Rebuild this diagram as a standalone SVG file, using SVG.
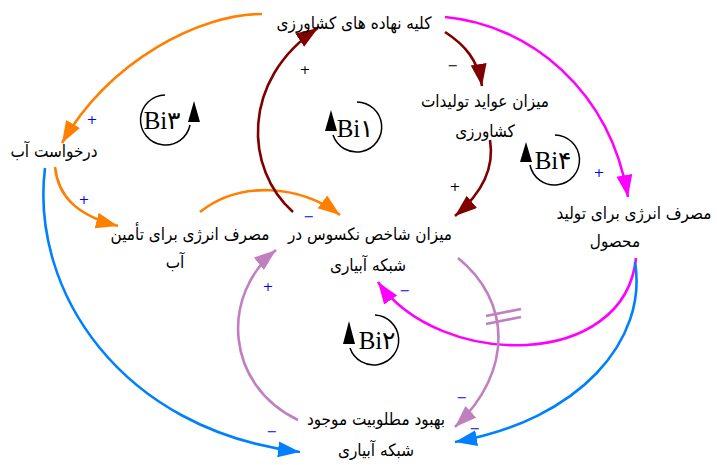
<svg xmlns="http://www.w3.org/2000/svg" width="717" height="465" viewBox="0 0 717 465">
<style>
.t{font-family:"DejaVu Sans Condensed","DejaVu Sans",sans-serif;font-size:17px;fill:#000;text-anchor:middle}
.l{font-family:"Liberation Serif","DejaVu Serif",serif;font-size:25px;fill:#000;text-anchor:middle}
.s{font-family:"DejaVu Sans",sans-serif;font-size:13px;fill:#0000ff;text-anchor:middle}
.sd{font-family:"DejaVu Sans",sans-serif;font-size:13px;fill:#000;text-anchor:middle}
.e{fill:none;stroke-width:2.6}
.or{stroke:#ff8000}.dr{stroke:#800000}.mg{stroke:#ff00ff}.pu{stroke:#c080c0}.bl{stroke:#0080ff}
.lp{fill:none;stroke:#000;stroke-width:1.5}
</style>
<defs>
<marker id="aor" markerUnits="userSpaceOnUse" markerWidth="24" markerHeight="18" refX="22" refY="8" orient="auto"><path d="M0,0L22,8L0,16z" fill="#ff8000"/></marker>
<marker id="adr" markerUnits="userSpaceOnUse" markerWidth="24" markerHeight="18" refX="22" refY="8" orient="auto"><path d="M0,0L22,8L0,16z" fill="#800000"/></marker>
<marker id="amg" markerUnits="userSpaceOnUse" markerWidth="24" markerHeight="18" refX="22" refY="8" orient="auto"><path d="M0,0L22,8L0,16z" fill="#ff00ff"/></marker>
<marker id="apu" markerUnits="userSpaceOnUse" markerWidth="24" markerHeight="18" refX="22" refY="8" orient="auto"><path d="M0,0L22,8L0,16z" fill="#c080c0"/></marker>
<marker id="abl" markerUnits="userSpaceOnUse" markerWidth="24" markerHeight="18" refX="22" refY="8" orient="auto"><path d="M0,0L22,8L0,16z" fill="#0080ff"/></marker>
</defs>
<rect width="717" height="465" fill="#fff"/>
<g id="connectors">
<path class="e or" d="M262,14 C200,14 110,60 62,143" marker-end="url(#aor)"/>
<path class="e or" d="M55,167 C58,195 75,215 118,226" marker-end="url(#aor)"/>
<path class="e or" d="M200,212 C240,180 300,185 340,215" marker-end="url(#aor)"/>
<path class="e dr" d="M293,212 C245,170 240,80 318,28" marker-end="url(#adr)"/>
<path class="e dr" d="M445,32 C465,45 478,60 482,86" marker-end="url(#adr)"/>
<path class="e dr" d="M490,140 C495,170 480,195 455,216" marker-end="url(#adr)"/>
<path class="e mg" d="M445,17 C530,25 610,90 628,197" marker-end="url(#amg)"/>
<path class="e mg" d="M636,258 C625,370 440,370 378,282" marker-end="url(#amg)"/>
<path class="e pu" d="M458,258 C510,300 515,370 455,427" marker-end="url(#apu)"/>
<path class="e pu" d="M486,316 L521,309 M486,324 L521,317"/>
<path class="e pu" d="M298,420 C225,385 220,295 276,250" marker-end="url(#apu)"/>
<path class="e bl" d="M45,168 C30,290 120,430 300,452" marker-end="url(#abl)"/>
<path class="e bl" d="M635,262 C648,340 580,420 455,442" marker-end="url(#abl)"/>
<text class="s" x="92" y="124">+</text>
<text class="s" x="84" y="204">+</text>
<text class="s" x="309" y="221">−</text>
<text class="sd" x="305" y="74">+</text>
<text class="sd" x="453" y="70">−</text>
<text class="sd" x="455" y="191">+</text>
<text class="s" x="599" y="177">+</text>
<text class="s" x="405" y="295">−</text>
<text class="s" x="462" y="402">−</text>
<text class="s" x="475" y="433">−</text>
<text class="s" x="268" y="291">+</text>
<text class="s" x="272" y="436">−</text>
</g>
<g id="loop-b1">
<path class="lp" d="M357,102 A25,25 0 1 1 333,135"/>
<path d="M325,131 L331,110 L337,131z" fill="#000"/>
<text class="l" x="355" y="137">Bi۱</text>
</g>
<g id="loop-b2">
<path class="lp" d="M375,315 A25,25 0 1 1 350,348"/>
<path d="M343,344 L349,321 L355,344z" fill="#000"/>
<text class="l" x="377" y="349">Bi۲</text>
</g>
<g id="loop-b3">
<path class="lp" d="M165,95 A25,25 0 1 0 190,125"/>
<path d="M188,122 L194,101 L200,122z" fill="#000"/>
<text class="l" x="162" y="129">Bi۳</text>
</g>
<g id="loop-b4">
<path class="lp" d="M555,135 A25,25 0 1 1 530,165"/>
<path d="M520,162 L526,142 L532,162z" fill="#000"/>
<text class="l" x="553" y="169">Bi۴</text>
</g>
<g id="n-inputs"><text class="t" x="354" y="29">کلیه نهاده های کشاورزی</text></g>
<g id="n-revenue"><text class="t" x="485" y="107">میزان عواید تولیدات</text><text class="t" x="485" y="137">کشاورزی</text></g>
<g id="n-water-demand"><text class="t" x="54" y="157">درخواست آب</text></g>
<g id="n-energy-water"><text class="t" x="190" y="240">مصرف انرژی برای تأمین</text><text class="t" x="175" y="268">آب</text></g>
<g id="n-nexus"><text class="t" x="370" y="240">میزان شاخص نکسوس در</text><text class="t" x="368" y="271">شبکه آبیاری</text></g>
<g id="n-energy-crop"><text class="t" x="634" y="219">مصرف انرژی برای تولید</text><text class="t" x="615" y="247">محصول</text></g>
<g id="n-utility"><text class="t" x="376" y="425">بهبود مطلوبیت موجود</text><text class="t" x="376" y="456">شبکه آبیاری</text></g>
</svg>
